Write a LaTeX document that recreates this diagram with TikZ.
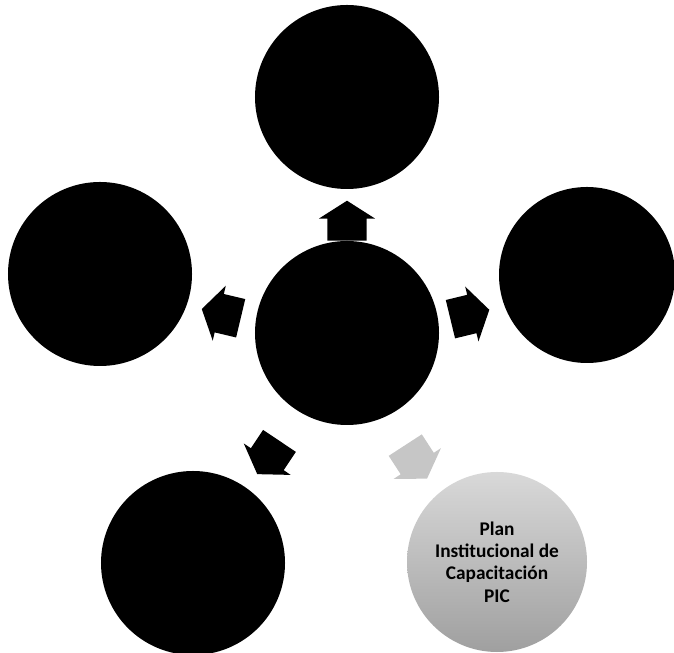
\documentclass[tikz,border=0pt]{standalone}
\usepackage{fontspec}
\setmainfont{Carlito}
\usetikzlibrary{positioning,shapes.arrows,calc}

\begin{document}
\begin{tikzpicture}[x=0.03cm, y=0.03cm,
  circ/.style={circle, fill=black, inner sep=0pt, minimum size=5.52cm},
  blk/.style={single arrow, fill=black, inner xsep=0pt, inner ysep=0.585cm,
              minimum height=1.2cm, single arrow head extend=0.255cm,
              single arrow tip angle=115, single arrow head indent=0pt}]

  \useasboundingbox (0,0) rectangle (674,653);

  % Circles, centre and around
  \node[circ] (ctr) at (347,320) {};
  \node[circ] (up)  at (347,556) {};
  \node[circ] (lft) at (100,379) {};
  \node[circ, minimum size=5.28cm] (rgt) at (587,378) {};
  \node[circ] (bl)  at (193,90) {};
  \node[circle, inner sep=0pt, minimum size=5.4cm, top color=gray!30, bottom color=gray!75,
        align=center, font=\bfseries\fontsize{16.5}{19}\selectfont] (pic) at (497,91)
    {Plan\\Institucional de\\Capacitación\\PIC};

  % Block arrows from the centre outwards
  \node[blk, rotate=90]     (aU) at ($(ctr)+(90:106)$) {};
  \node[blk, rotate=166.6]  (aL) at ($(ctr)+(171.5:121)$) {};
  \node[blk, rotate=13.6]   (aR) at ($(ctr)+(8.3:118)$) {};
  \node[blk, rotate=-123.8] (aB) at ($(ctr)+(237.8:141)$) {};
  \node[blk, rotate=-57, fill=gray!45] (aP) at ($(ctr)+(298:140)$) {};
\end{tikzpicture}
\end{document}
